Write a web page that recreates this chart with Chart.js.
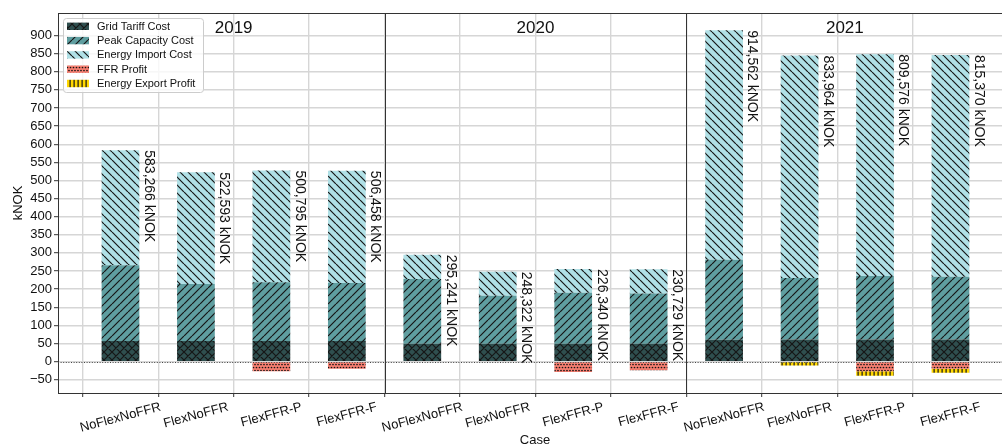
<!DOCTYPE html>
<html>
<head>
<meta charset="utf-8">
<title>Annual cost per case</title>
<script src="https://cdn.jsdelivr.net/npm/chart.js@4.4.1/dist/chart.umd.min.js"></script>
<style>
  html, body { margin: 0; padding: 0; background: #ffffff; overflow: hidden; }
  canvas { display: block; }
</style>
</head>
<body>
<canvas id="chart" width="1002" height="445"></canvas>
<script>
// Years (one panel each) and the four operating cases inside each panel
const years = ['2019', '2020', '2021'];
const cases = ['NoFlexNoFFR', 'FlexNoFFR', 'FlexFFR-P', 'FlexFFR-F'];

// Cost components in kNOK, 12 bars: 2019 x 4 cases, 2020 x 4 cases, 2021 x 4 cases
const gridTariffCost   = [57, 57, 57, 57,   49, 49, 49, 49,   60, 61, 61, 61];
const peakCapacityCost = [209, 157, 162, 160,   179, 133, 141, 139,   221, 170, 175, 173];
const energyImportCost = [317.266, 308.593, 308.795, 309.458,   67.241, 66.322, 65.340, 66.729,   633.562, 613.964, 612.576, 612.370];
// Income is stacked below zero
const ffrProfit          = [0, 0, -27, -20,   0, 0, -29, -24,   0, 0, -27, -20];
const energyExportProfit = [0, 0, 0, 0,   0, 0, 0, 0,   0, -11, -12, -11];

// Value axis ticks
const yTickValues = [-50, 0, 50, 100, 150, 200, 250, 300, 350, 400, 450, 500, 550, 600, 650, 700, 750, 800, 850, 900];

const categoryLabels = years.flatMap(() => cases);
const positions = categoryLabels.map((_, i) => i);
const panelBreaks = [3.5, 7.5];
const panelTitleAt = [1.5, 5.5, 9.6];

const FONT = "'Liberation Sans', Arial, Helvetica, sans-serif";
const TEXT = '#111111';
const GRID = '#d6d6d6';

const canvas = document.getElementById('chart');
const mainCtx = canvas.getContext('2d');

// Hatched fills
function makePattern(bg, kind) {
  const s = kind === 'dots' ? 6 : (kind === 'vert' ? 4 : 8);
  const tile = document.createElement('canvas');
  tile.width = s; tile.height = s;
  const g = tile.getContext('2d');
  g.fillStyle = bg;
  g.fillRect(0, 0, s, s);
  g.strokeStyle = '#161616';
  g.fillStyle = '#161616';
  g.lineWidth = 1.2;
  g.beginPath();
  if (kind === 'fwd' || kind === 'cross') {
    for (const k of [-1, 0, 1]) { g.moveTo(k * s, s); g.lineTo(k * s + s, 0); }
  }
  if (kind === 'back' || kind === 'cross') {
    for (const k of [-1, 0, 1]) { g.moveTo(k * s, 0); g.lineTo(k * s + s, s); }
  }
  g.stroke();
  if (kind === 'vert') {
    g.fillRect(1.5, 0, 1.2, s);
  }
  if (kind === 'dots') {
    const pts = [[1.5, 1.5], [4.5, 1.5], [0, 4.5], [3, 4.5], [6, 4.5]];
    for (const [px, py] of pts) {
      g.beginPath(); g.arc(px, py, 0.85, 0, Math.PI * 2); g.fill();
    }
  }
  return mainCtx.createPattern(tile, 'repeat');
}

const series = [
  { label: 'Grid Tariff Cost',     values: gridTariffCost,     color: '#2f4f4f', hatch: 'cross' },
  { label: 'Peak Capacity Cost',   values: peakCapacityCost,   color: '#5f9ea0', hatch: 'fwd' },
  { label: 'Energy Import Cost',   values: energyImportCost,   color: '#b0e0e6', hatch: 'back' },
  { label: 'FFR Profit',           values: ffrProfit,          color: '#fa8072', hatch: 'dots' },
  { label: 'Energy Export Profit', values: energyExportProfit, color: '#ffd700', hatch: 'vert' }
];
series.forEach(s => { s.fill = makePattern(s.color, s.hatch); });

const datasets = series.map(s => ({
  label: s.label,
  data: s.values.map((v, i) => ({ x: positions[i], y: v })),
  backgroundColor: s.fill,
  borderWidth: 0,
  barPercentage: 0.5,
  categoryPercentage: 1.0
}));

function netTotal(i) {
  return series.reduce((acc, s) => acc + s.values[i], 0);
}
function formatKNOK(v) {
  return v.toFixed(3).replace('.', ',') + ' kNOK';
}

// only whole category positions get a grid line and tick mark
function onCategory(c) {
  return c.tick && Number.isInteger(c.tick.value);
}

const overlay = {
  id: 'overlay',
  afterDatasetsDraw(chart) {
    const { ctx, chartArea: a, scales: { x, y } } = chart;
    ctx.save();

    // dotted zero line
    const y0 = Math.round(y.getPixelForValue(0)) + 0.5;
    ctx.strokeStyle = '#444';
    ctx.lineWidth = 1;
    ctx.setLineDash([1, 1.6]);
    ctx.beginPath(); ctx.moveTo(a.left, y0); ctx.lineTo(a.right, y0); ctx.stroke();
    ctx.setLineDash([]);

    // top frame and panel separators
    ctx.strokeStyle = '#333';
    ctx.lineWidth = 1;
    ctx.beginPath();
    ctx.moveTo(a.left, a.top + 0.5); ctx.lineTo(a.right, a.top + 0.5);
    panelBreaks.forEach(v => {
      const px = Math.round(x.getPixelForValue(v)) + 0.5;
      ctx.moveTo(px, a.top); ctx.lineTo(px, a.bottom);
    });
    ctx.stroke();

    // net cost labels beside each bar
    const topMeta = chart.getDatasetMeta(2);
    ctx.fillStyle = TEXT;
    ctx.font = '14px ' + FONT;
    ctx.textAlign = 'left';
    ctx.textBaseline = 'alphabetic';
    topMeta.data.forEach((bar, i) => {
      const right = bar.x + bar.width / 2;
      ctx.save();
      ctx.translate(right + 5.5, bar.y);
      ctx.rotate(Math.PI / 2);
      ctx.fillText(formatKNOK(netTotal(i)), 0, 0);
      ctx.restore();
    });

    // panel titles
    ctx.font = '17px ' + FONT;
    ctx.textAlign = 'center';
    ctx.textBaseline = 'alphabetic';
    years.forEach((yr, k) => {
      ctx.fillText(yr, x.getPixelForValue(panelTitleAt[k]), 33.3);
    });

    // category labels, tilted
    ctx.font = '13px ' + FONT;
    const ang = 15 * Math.PI / 180;
    categoryLabels.forEach((lab, i) => {
      const w = ctx.measureText(lab).width;
      const h = 13;
      const boxH = w * Math.sin(ang) + h * Math.cos(ang);
      const px = x.getPixelForValue(positions[i]);
      ctx.save();
      ctx.translate(px, a.bottom + 7.5 + boxH / 2);
      ctx.rotate(-ang);
      ctx.textAlign = 'center';
      ctx.textBaseline = 'middle';
      ctx.fillText(lab, 0, 0);
      ctx.restore();
    });

    // axis titles
    ctx.textAlign = 'center';
    ctx.textBaseline = 'alphabetic';
    ctx.fillText('Case', 535, 444);
    ctx.save();
    ctx.translate(22, (a.top + a.bottom) / 2);
    ctx.rotate(-Math.PI / 2);
    ctx.fillText('kNOK', 0, 0);
    ctx.restore();

    // legend
    const lx = 63.5, ly = 18.5, lw = 140, lh = 74;
    ctx.fillStyle = 'rgba(255,255,255,0.8)';
    ctx.strokeStyle = '#cccccc';
    ctx.lineWidth = 1;
    ctx.beginPath();
    ctx.roundRect(lx, ly, lw, lh, 3);
    ctx.fill(); ctx.stroke();
    ctx.font = '11px ' + FONT;
    ctx.textAlign = 'left';
    ctx.textBaseline = 'middle';
    series.forEach((s, k) => {
      const cy = 26.3 + k * 14.3;
      ctx.fillStyle = s.fill;
      ctx.fillRect(67, cy - 3.7, 22, 7.4);
      ctx.fillStyle = TEXT;
      ctx.fillText(s.label, 97, cy + 0.5);
    });

    ctx.restore();
  }
};

Chart.defaults.font.family = FONT;
Chart.defaults.color = TEXT;

new Chart(mainCtx, {
  type: 'bar',
  data: { datasets },
  options: {
    responsive: false,
    animation: false,
    devicePixelRatio: 1,
    layout: { padding: { top: 13, right: 0, left: 0, bottom: 0 } },
    plugins: { legend: { display: false }, tooltip: { enabled: false } },
    scales: {
      x: {
        type: 'linear',
        min: -0.828,
        max: 11.683,
        stacked: true,
        offset: false,
        afterBuildTicks: s => { s.ticks = positions.map(v => ({ value: v })); },
        afterFit: s => { s.height = 52; },
        ticks: { display: false, stepSize: 1 },
        grid: {
          color: c => (onCategory(c) ? GRID : 'rgba(0,0,0,0)'),
          tickColor: c => (onCategory(c) ? '#333' : 'rgba(0,0,0,0)'),
          lineWidth: 1.4, drawTicks: true, tickLength: 4, tickWidth: 1
        },
        border: { display: true, color: '#333', width: 1 }
      },
      y: {
        type: 'linear',
        min: -86.7,
        max: 962.2,
        stacked: true,
        afterBuildTicks: s => { s.ticks = yTickValues.map(v => ({ value: v })); },
        afterFit: s => { s.width = 58; },
        ticks: {
          font: { size: 13, family: FONT },
          color: TEXT,
          padding: 2,
          callback: v => (v < 0 ? '\u2212' + Math.abs(v) : String(v))
        },
        grid: { color: GRID, lineWidth: 1.4, drawTicks: true, tickLength: 4, tickColor: '#333', tickWidth: 1 },
        border: { display: true, color: '#333', width: 1 }
      }
    }
  },
  plugins: [overlay]
});
</script>
</body>
</html>
